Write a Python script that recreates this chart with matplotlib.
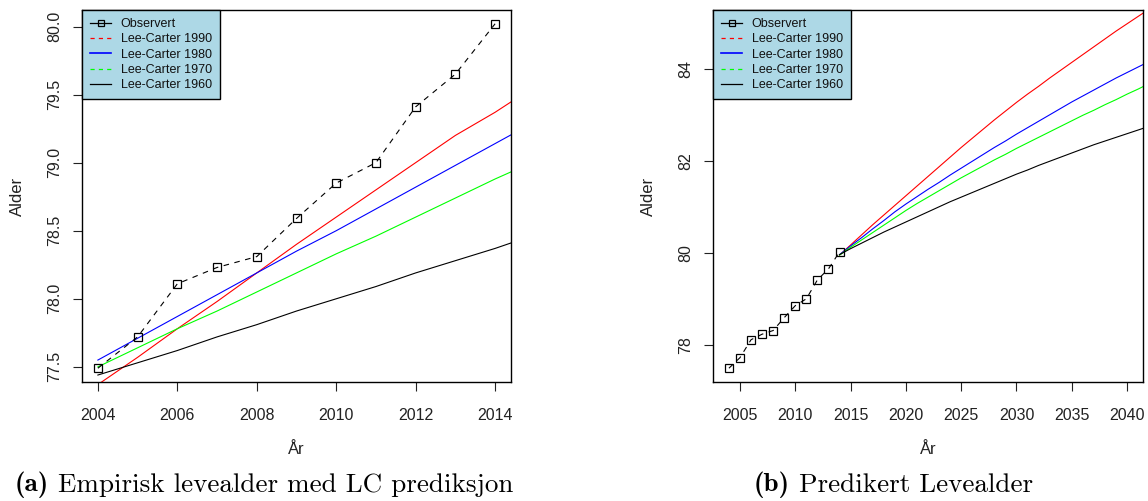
import matplotlib
matplotlib.use("Agg")
import matplotlib.pyplot as plt
from matplotlib.lines import Line2D

plt.rcParams["font.family"] = ["Liberation Sans", "DejaVu Sans"]
plt.rcParams["lines.scale_dashes"] = False

# Observed life expectancy
obs_years = list(range(2004, 2015))
obs_values = [77.49, 77.72, 78.11, 78.23, 78.31, 78.59, 78.85, 79.00, 79.41, 79.65, 80.02]

# Lee-Carter predictions for 2004-2015, by start year of the fitting period
pred_years_a = list(range(2004, 2016))
lc1990_a = [77.37, 77.57, 77.78, 77.98, 78.19, 78.40, 78.60, 78.80, 79.00, 79.20, 79.37, 79.56]
lc1980_a = [77.55, 77.71, 77.87, 78.03, 78.19, 78.35, 78.50, 78.66, 78.82, 78.98, 79.14, 79.30]
lc1970_a = [77.50, 77.64, 77.78, 77.91, 78.05, 78.19, 78.33, 78.46, 78.60, 78.74, 78.88, 79.01]
lc1960_a = [77.44, 77.53, 77.62, 77.72, 77.81, 77.91, 78.00, 78.09, 78.19, 78.28, 78.37, 78.47]

# Lee-Carter forecasts from 2014 onwards
pred_years_b = list(range(2014, 2043))
lc1990_b = [79.95, 80.17, 80.39, 80.61, 80.82, 81.03, 81.24, 81.45, 81.66, 81.87,
            82.08, 82.29, 82.49, 82.69, 82.89, 83.08, 83.27, 83.45, 83.62, 83.80,
            83.97, 84.14, 84.31, 84.48, 84.65, 84.82, 84.98, 85.14, 85.30]
lc1980_b = [79.96, 80.15, 80.33, 80.52, 80.70, 80.89, 81.06, 81.22, 81.38, 81.53,
            81.69, 81.84, 81.99, 82.14, 82.29, 82.43, 82.58, 82.72, 82.86, 83.00,
            83.14, 83.28, 83.41, 83.54, 83.67, 83.80, 83.92, 84.04, 84.16]
lc1970_b = [79.95, 80.12, 80.28, 80.44, 80.60, 80.76, 80.92, 81.07, 81.21, 81.35,
            81.49, 81.63, 81.76, 81.89, 82.02, 82.14, 82.27, 82.39, 82.51, 82.63,
            82.75, 82.87, 82.99, 83.10, 83.22, 83.33, 83.45, 83.56, 83.68]
lc1960_b = [79.96, 80.09, 80.21, 80.33, 80.45, 80.56, 80.67, 80.78, 80.89, 81.00,
            81.11, 81.21, 81.31, 81.41, 81.51, 81.61, 81.71, 81.80, 81.90, 81.99,
            82.08, 82.17, 82.26, 82.35, 82.43, 82.51, 82.59, 82.67, 82.75]

legend_labels = ["Observert", "Lee-Carter 1990", "Lee-Carter 1980",
                 "Lee-Carter 1970", "Lee-Carter 1960"]
series_colors = ["#FF0000", "#0000FF", "#00FF00", "#000000"]

xticks_a = [2004, 2006, 2008, 2010, 2012, 2014]
yticks_a = [77.5, 78.0, 78.5, 79.0, 79.5, 80.0]
xticks_b = [2005, 2010, 2015, 2020, 2025, 2030, 2035, 2040]
yticks_b = [78, 80, 82, 84]

W, H = 1148, 501
fig = plt.figure(figsize=(W / 100, H / 100), dpi=100)


def px_box(x0, x1, y0, y1):
    return [x0 / W, 1 - y1 / H, (x1 - x0) / W, (y1 - y0) / H]


def r_range(lo, hi):
    pad = 0.04 * (hi - lo)
    return lo - pad, hi + pad


def style_axes(ax, xticks, yticks, yfmt):
    for s in ax.spines.values():
        s.set_linewidth(1.0)
        s.set_color("black")
    ax.set_xticks(xticks)
    ax.set_yticks(yticks)
    ax.set_yticklabels([yfmt.format(v) for v in yticks])
    ax.tick_params(direction="out", length=6.5, width=0.8, labelsize=11.5,
                   colors="#222222")
    ax.tick_params(axis="x", pad=12)
    ax.tick_params(axis="y", pad=8)
    for lab in ax.get_yticklabels():
        lab.set_rotation(90)
        lab.set_rotation_mode("anchor")
        lab.set_ha("center")
        lab.set_va("bottom")


def add_legend(ax):
    handles = [
        Line2D([], [], color="black", lw=0.9, marker="s", markersize=5,
               markerfacecolor="none", markeredgewidth=0.9),
        Line2D([], [], color=series_colors[0], lw=0.9, dashes=(3, 3)),
        Line2D([], [], color=series_colors[1], lw=1.2),
        Line2D([], [], color=series_colors[2], lw=0.9, dashes=(3, 3)),
        Line2D([], [], color=series_colors[3], lw=0.9),
    ]
    leg = ax.legend(handles, legend_labels, loc="upper left",
                    bbox_to_anchor=(0, 1), borderaxespad=0, fontsize=9,
                    frameon=True, fancybox=False, facecolor="#ADD8E6",
                    edgecolor="black", framealpha=1, handlelength=1.7,
                    handletextpad=0.75, labelspacing=0.26, borderpad=0.65)
    leg.get_frame().set_linewidth(1.0)
    for t in leg.get_texts():
        t.set_color("#111111")


def draw_obs(ax):
    ax.plot(obs_years, obs_values, color="black", lw=0.8, dashes=(4, 4),
            marker="s", markersize=6, markerfacecolor="none",
            markeredgewidth=0.9, zorder=5)


# Panel (a)
ax1 = fig.add_axes(px_box(82, 511, 10, 382))
ax1.plot(pred_years_a, lc1990_a, color=series_colors[0], lw=0.8)
ax1.plot(pred_years_a, lc1980_a, color=series_colors[1], lw=0.8)
ax1.plot(pred_years_a, lc1970_a, color=series_colors[2], lw=0.8)
ax1.plot(pred_years_a, lc1960_a, color=series_colors[3], lw=0.8)
draw_obs(ax1)
ax1.set_xlim(*r_range(min(obs_years), max(obs_years)))
ax1.set_ylim(*r_range(min(obs_values), max(obs_values)))
style_axes(ax1, xticks_a, yticks_a, "{:.1f}")
add_legend(ax1)

# Panel (b)
ax2 = fig.add_axes(px_box(713, 1143, 10, 382))
ax2.plot(pred_years_b, lc1990_b, color=series_colors[0], lw=0.8)
ax2.plot(pred_years_b, lc1980_b, color=series_colors[1], lw=0.8)
ax2.plot(pred_years_b, lc1970_b, color=series_colors[2], lw=0.8)
ax2.plot(pred_years_b, lc1960_b, color=series_colors[3], lw=0.8)
draw_obs(ax2)
ax2.set_xlim(*r_range(2004, 2040))
ax2.set_ylim(*r_range(min(obs_values), lc1990_b[pred_years_b.index(2040)]))
style_axes(ax2, xticks_b, yticks_b, "{:d}")
add_legend(ax2)

# Axis titles
for cx in (296, 928):
    fig.text(cx / W, 1 - 449 / H, "År", ha="center", va="center",
             fontsize=12, color="#222222")
for cx in (17, 648):
    fig.text(cx / W, 1 - 196 / H, "Alder", ha="center", va="center",
             rotation=90, fontsize=12, color="#222222")


def caption(cx, cy, tag, body, size):
    renderer = fig.canvas.get_renderer()
    t1 = fig.text(0, 1 - cy / H, tag, fontfamily="cmb10", fontsize=size,
                  va="center", ha="left")
    t2 = fig.text(0, 1 - cy / H, " " + body, fontfamily="cmr10",
                  fontsize=size, va="center", ha="left")
    w1 = t1.get_window_extent(renderer).width
    w2 = t2.get_window_extent(renderer).width
    x0 = cx - (w1 + w2) / 2
    t1.set_x(x0 / W)
    t2.set_x((x0 + w1) / W)


caption(264, 485, "(a)", "Empirisk levealder med LC prediksjon", 19.5)
caption(893, 485, "(b)", "Predikert Levealder", 19.5)

fig.savefig("out.png", dpi=100)
